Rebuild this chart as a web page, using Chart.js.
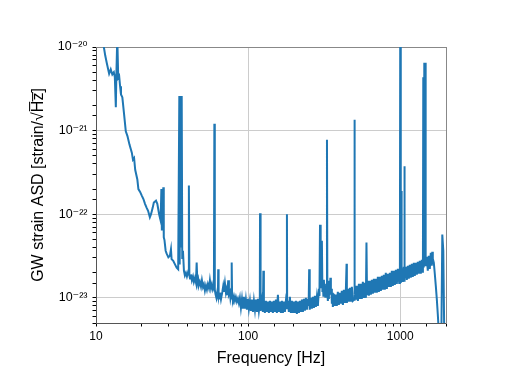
<!DOCTYPE html>
<html><head><meta charset="utf-8">
<script src="https://cdn.jsdelivr.net/npm/chart.js@4"></script>
<style>html,body{margin:0;padding:0;background:#fff;}canvas{display:block;}</style>
</head><body>
<canvas id="c" width="512" height="384"></canvas>
<script>
// Low-frequency wall (Hz, strain/rtHz)
const freqLow = [
11.0,11.5,11.8,12.2,12.5,12.8,13.1,13.3,13.5,13.6,
13.8,14.0,14.2,14.4,14.6,14.9,15.3,15.7,16.1,16.6,
17.2,17.5,17.8,18.1,18.7,19.0,19.5,20.0,20.5,21.0,
21.5,22.0,22.6,23.0,23.6,24.0,24.8,25.3,26.0,26.6,
26.9,27.1,27.4,27.7,27.9,28.2,28.7,29.1,29.9,30.6,
31.1,31.4,32.2,33.0,33.9,34.7,35.0,35.3,35.5,35.9,
36.2,36.6,36.9,37.3,37.85];
const asdLow = [
1.3e-20,7.9e-21,6.3e-21,4.8e-21,5.4e-21,4.7e-21,5.0e-21,4.35e-21,1.9e-21,4.3e-21,
1.3e-20,4.3e-21,4.5e-21,3.4e-21,2.7e-21,2.5e-21,1.56e-21,9.8e-22,8.6e-22,6.8e-22,
5.45e-22,4.5e-22,4.7e-22,3.4e-22,2.6e-22,2.0e-22,1.85e-22,1.67e-22,1.52e-22,1.33e-22,
1.2e-22,1.1e-22,9.2e-23,1.0e-22,1.2e-22,1.38e-22,1.45e-22,1.33e-22,1.0e-22,8.4e-23,
2.0e-22,6.4e-23,9.6e-23,2.1e-22,5.3e-23,4.9e-23,3.66e-23,3.4e-23,3.05e-23,3.18e-23,
3.8e-23,2.9e-23,2.77e-23,2.53e-23,2.3e-23,2.2e-23,2.2e-23,2.6e-21,2.5e-23,2.5e-21,
4.0e-23,2.6e-21,3.0e-23,3.66e-23,2.11e-23];
// 38-88 Hz
const freqMidLow = [
38.4,39.0,39.6,40.2,40.5,40.8,41.1,41.5,42.1,42.7,
43.4,44.0,44.7,45.4,45.9,46.4,47.0,47.5,48.2,49.0,
49.7,50.5,51.2,52.0,52.8,53.6,54.4,55.3,56.1,57.0,
57.8,58.7,59.6,60.0,60.4,61.0,61.9,62.6,63.3,63.6,
64.0,64.8,65.3,66.3,66.9,67.8,68.6,69.3,70.4,71.5,
72.2,73.0,74.0,74.8,75.9,76.6,77.5,78.0,78.5,79.5,
80.7,81.9,83.1,84.4,85.7,87.0];
const asdMidLow = [
1.85e-23,1.99e-23,1.80e-23,2.0e-23,1.9e-23,2.2e-22,1.85e-23,1.70e-23,1.90e-23,1.62e-23,
1.80e-23,1.55e-23,1.72e-23,1.52e-23,2.65e-23,1.50e-23,1.66e-23,1.42e-23,1.55e-23,1.36e-23,
1.62e-23,1.35e-23,1.45e-23,1.22e-23,1.40e-23,1.25e-23,1.45e-23,1.30e-23,1.62e-23,1.30e-23,
1.45e-23,1.25e-23,1.35e-23,1.21e-21,1.25e-23,1.12e-23,1.00e-23,1.15e-23,1.05e-23,2.2e-23,
1.08e-23,9.8e-24,1.15e-23,9.6e-24,1.05e-23,1.20e-23,1.38e-23,1.18e-23,1.50e-23,1.15e-23,
1.25e-23,1.08e-23,1.62e-23,1.10e-23,1.18e-23,9.8e-24,1.10e-23,2.65e-23,1.0e-23,9.4e-24,
1.05e-23,9.2e-24,1.02e-23,9.0e-24,9.8e-24,8.6e-24];
// 88-361 Hz
const freqMid = [
88.3,89.7,91.1,92.4,93.8,95.3,96.7,98.2,99.7,101.2,
102.8,104.3,105.9,107.6,109.2,110.9,112.5,114.3,116.0,117.8,
119.4,119.8,120.2,121.4,123.2,125.1,126.0,127.0,128.9,130.9,
132.9,134.9,137.0,139.1,141.2,143.3,145.5,147.7,150.0,152.3,
154.6,157.0,159.4,161.8,164.3,166.8,169.3,171.9,174.5,177.2,
179.3,180.0,180.6,182.6,185.4,188.2,191.1,194.0,197.0,200.0,
203.0,206.2,209.3,212.5,215.7,219.0,222.4,225.8,229.2,232.7,
236.3,239.8,243.5,247.2,250.0,252.0,253.5,254.8,258.7,262.6,
266.6,270.7,274.8,279.0,283.3,287.6,292.0,294.5,297.0,299.0,
300.9,305.5,308.0,310.2,312.5,314.9,317.3,319.7,322.0,324.6,
327.5,330.0,332.0,334.5,337.0,339.6,342.0,344.8,347.4,350.1,
352.7,355.4,358.1,360.8];
const asdMid = [
1.0e-23,7.6e-24,9.7e-24,7.4e-24,1.03e-23,7.4e-24,9.5e-24,7.2e-24,9.7e-24,7.4e-24,
9.2e-24,7.0e-24,9.5e-24,6.8e-24,9.2e-24,7.2e-24,9.5e-24,6.8e-24,9.7e-24,7.0e-24,
8.5e-24,1.03e-22,8.0e-24,7.0e-24,9.2e-24,6.8e-24,2.11e-23,9.0e-24,6.6e-24,9.2e-24,
6.8e-24,9.0e-24,6.6e-24,9.2e-24,6.8e-24,9.0e-24,6.6e-24,9.2e-24,6.8e-24,9.5e-24,
6.6e-24,1.09e-23,6.8e-24,9.0e-24,6.6e-24,9.2e-24,6.6e-24,9.0e-24,6.8e-24,9.2e-24,
8.0e-24,1.0e-22,7.5e-24,9.2e-24,6.8e-24,1.03e-23,6.6e-24,9.2e-24,6.6e-24,9.0e-24,
6.6e-24,9.2e-24,6.4e-24,9.0e-24,6.6e-24,9.2e-24,6.8e-24,9.5e-24,6.8e-24,9.7e-24,
7.0e-24,1.0e-23,7.2e-24,9.7e-24,8.0e-24,2.2e-23,8.5e-24,7.2e-24,1.0e-23,7.4e-24,
1.03e-23,7.6e-24,1.06e-23,7.8e-24,1.03e-23,8.0e-24,1.28e-23,1.05e-23,7.5e-23,1.3e-23,
1.51e-23,4.8e-23,1.21e-23,1.43e-23,1.06e-23,1.64e-23,1.15e-23,1.47e-23,1.03e-23,1.32e-23,
1.2e-23,7.8e-22,1.1e-23,9.2e-24,1.28e-23,9.7e-24,1.6e-23,1.09e-23,1.74e-23,1.12e-23,
1.28e-23,8.5e-24,1.15e-23,7.8e-24];
// 366-2000 Hz
const freqHigh = [
366,372,378,383,389,395,401,407,413,420,
426,433,439,444,446,453,460,467,474,481,
488,497,500,503,507,511,519,527,535,543,
551,559,568,577,585,595,600,605,613,622,
631,641,651,661,671,681,691,702,713,724,
735,746,757,769,780,792,804,817,829,842,
855,868,881,894,908,922,936,950,965,985,
995,1000,1005,1012,1015,1018,1025,1040,1056,1063,
1066,1070,1089,1105,1122,1139,1156,1174,1192,1210,
1229,1247,1266,1286,1305,1325,1345,1366,1387,1410,
1418,1428,1440,1450,1458,1470,1496,1518,1541,1565,
1589,1613,1625,1638,1663,1688,1714,1740,1766,1793,
1821,1863,1891,1920,1950,2000];
const asdHigh = [
1.12e-23,8.0e-24,1.09e-23,8.0e-24,1.18e-23,8.2e-24,1.15e-23,8.5e-24,1.21e-23,8.2e-24,
1.25e-23,8.7e-24,1.21e-23,2.55e-23,8.7e-24,1.28e-23,9.0e-24,1.32e-23,9.0e-24,1.35e-23,
9.2e-24,9.5e-24,1.35e-21,1.1e-23,1.39e-23,9.5e-24,1.39e-23,9.2e-24,1.47e-23,9.7e-24,
1.47e-23,9.7e-24,1.55e-23,1.0e-23,1.51e-23,1.0e-23,4.6e-23,1.1e-23,1.6e-23,1.06e-23,
1.6e-23,1.09e-23,1.64e-23,1.12e-23,1.69e-23,1.15e-23,1.69e-23,1.15e-23,1.78e-23,1.18e-23,
1.78e-23,1.21e-23,1.83e-23,1.25e-23,1.89e-23,1.25e-23,1.99e-23,1.28e-23,1.94e-23,1.35e-23,
1.99e-23,1.35e-23,2.11e-23,1.39e-23,2.11e-23,1.43e-23,2.16e-23,1.47e-23,2.22e-23,1.5e-23,
1.6e-23,1.05e-20,1.6e-23,1.5e-23,1.9e-22,1.6e-23,2.29e-23,1.55e-23,2.35e-23,1.6e-23,
3.74e-22,1.7e-23,2.35e-23,1.64e-23,2.42e-23,1.69e-23,2.48e-23,1.74e-23,2.55e-23,1.78e-23,
2.63e-23,1.83e-23,2.63e-23,1.89e-23,2.7e-23,1.94e-23,2.77e-23,1.94e-23,2.85e-23,2.0e-23,
4.35e-21,2.3e-23,6.5e-21,2.5e-23,6.5e-21,2.4e-23,3.1e-23,2.11e-23,3.18e-23,2.22e-23,
3.46e-23,2.42e-23,3.55e-23,2.93e-23,2.63e-23,1.94e-23,1.39e-23,9.7e-24,6.4e-24,4.0e-24,
2.7e-24,3.0e-24,5.7e-23,3.66e-23,3.0e-24,3.0e-24];

const xTickValues = [10, 100, 1000];
const xTickLabels = ['10', '100', '1000'];
const yTickValues = [1e-23, 1e-22, 1e-21, 1e-20];
const yTickLabels = ['10\u207B\u00B2\u00B3', '10\u207B\u00B2\u00B2', '10\u207B\u00B2\u00B9', '10\u207B\u00B2\u2070'];
const xTitle = 'Frequency [Hz]';
const yTitle = 'GW strain ASD [strain/\u221AH\u0305z\u0305]';

const frequencyHz = [...freqLow, ...freqMidLow, ...freqMid, ...freqHigh];
const strainASD = [...asdLow, ...asdMidLow, ...asdMid, ...asdHigh];

function findLabel(v, vals, labels) {
  for (let i = 0; i < vals.length; i++) if (Math.abs(v / vals[i] - 1) < 1e-6) return labels[i];
  return '';
}
function isMajor(v, vals) { return findLabel(v, vals, vals.map(String)) !== ''; }

const FONT = "'Liberation Sans', Arial, 'DejaVu Sans', sans-serif";
const points = frequencyHz.map((f, i) => ({x: f, y: strainASD[i]}));

new Chart(document.getElementById('c'), {
  type: 'line',
  data: { datasets: [{ data: points, borderColor: '#1f77b4', backgroundColor: '#1f77b4', borderWidth: 2, pointRadius: 0, tension: 0, fill: false }] },
  options: {
    responsive: false, animation: false, devicePixelRatio: 1,
    layout: { padding: { left: 0, right: 66, top: 47, bottom: 0 } },
    plugins: { legend: { display: false }, tooltip: { enabled: false } },
    scales: {
      x: {
        type: 'logarithmic', position: 'bottom', min: 10, max: 2000,
        afterFit: s => { s.height = 61; },
        border: { color: '#555555', width: 1 },
        grid: { color: c => (c.tick && isMajor(c.tick.value, xTickValues)) ? '#cccccc' : 'rgba(0,0,0,0)', tickColor: '#000', tickLength: 3.5, lineWidth: 1 },
        ticks: { autoSkip: false, maxRotation: 0, padding: 3, color: '#000', font: { family: FONT, size: 12 },
          callback: v => findLabel(v, xTickValues, xTickLabels) },
        title: { display: true, text: xTitle, color: '#000', font: { family: FONT, size: 16 }, padding: { top: 0, bottom: 16 } }
      },
      y: {
        type: 'logarithmic', position: 'left', min: 5e-24, max: 1e-20,
        afterFit: s => { s.width = 96; },
        border: { color: '#555555', width: 1 },
        grid: { color: c => (c.tick && isMajor(c.tick.value, yTickValues)) ? '#cccccc' : 'rgba(0,0,0,0)', tickColor: '#000', tickLength: 3.5, lineWidth: 1 },
        ticks: { autoSkip: false, padding: 5, color: '#000', font: { family: FONT, size: 12.5 },
          callback: v => findLabel(v, yTickValues, yTickLabels) },
        title: { display: true, text: yTitle, color: '#000', font: { family: FONT, size: 16 }, padding: { top: 29, bottom: 0 } }
      },
      x2: {
        type: 'logarithmic', position: 'top', min: 10, max: 2000,
        afterFit: s => { s.height = 0; },
        border: { display: true, color: '#888888', width: 1 },
        grid: { display: false, drawTicks: false }, ticks: { display: false }
      },
      y2: {
        type: 'logarithmic', position: 'right', min: 5e-24, max: 1e-20,
        afterFit: s => { s.width = 0; },
        border: { display: true, color: '#888888', width: 1 },
        grid: { display: false, drawTicks: false }, ticks: { display: false }
      }
    }
  }
});
</script>
</body></html>
